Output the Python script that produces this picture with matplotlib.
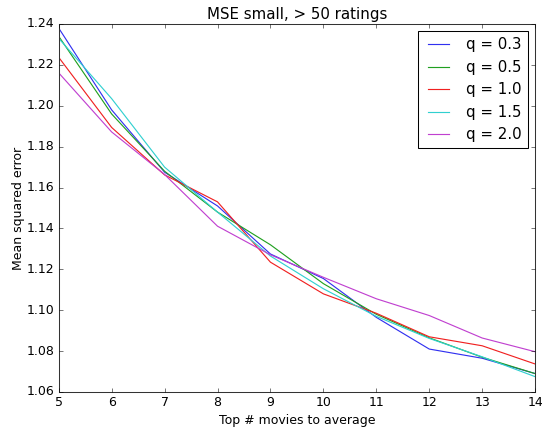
import matplotlib
matplotlib.use("Agg")
import matplotlib.pyplot as plt

# Top-N movies used for the average
top_n = [5, 6, 7, 8, 9, 10, 11, 12, 13, 14]

q_labels = ["q = 0.3", "q = 0.5", "q = 1.0", "q = 1.5", "q = 2.0"]
mse_q03 = [1.238, 1.198, 1.1675, 1.151, 1.1275, 1.1155, 1.0965, 1.081, 1.0765, 1.069]
mse_q05 = [1.234, 1.196, 1.168, 1.148, 1.132, 1.113, 1.098, 1.0865, 1.077, 1.069]
mse_q10 = [1.2237, 1.1894, 1.1662, 1.153, 1.1235, 1.108, 1.0985, 1.087, 1.0826, 1.0737]
mse_q15 = [1.233, 1.2035, 1.170, 1.148, 1.1265, 1.1105, 1.097, 1.0862, 1.0772, 1.0675]
mse_q20 = [1.2161, 1.1872, 1.1664, 1.1411, 1.1271, 1.1161, 1.1056, 1.0974, 1.0864, 1.0797]

series = [mse_q03, mse_q05, mse_q10, mse_q15, mse_q20]
colors = ["#3030f0", "#20a020", "#f02020", "#30d0d0", "#c040d0"]

plt.style.use("classic")
dpi = 75
fig = plt.figure(figsize=(542 / dpi, 427 / dpi), dpi=dpi)
ax = fig.add_axes([0.1083, 0.082, 0.879, 0.8618])

for vals, c, lab in zip(series, colors, q_labels):
    ax.plot(top_n, vals, color=c, lw=1.1, label=lab)

ax.set_xlim(5, 14)
ax.set_ylim(1.06, 1.24)
ax.set_xticks(range(5, 15))
ax.set_yticks([1.06 + 0.02 * i for i in range(10)])
ax.set_xlabel("Top # movies to average")
ax.set_ylabel("Mean squared error", labelpad=2)
ax.set_title("MSE small, > 50 ratings")
for s in ax.spines.values():
    s.set_color("#333333")
ax.legend(loc="upper right", labelspacing=0.5)

fig.savefig("out.png", dpi=dpi)
